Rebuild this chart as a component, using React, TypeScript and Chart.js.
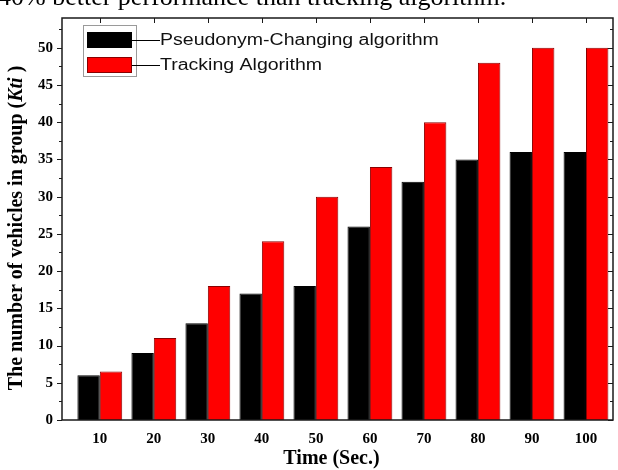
import React, { useEffect, useRef } from 'react';
import { Chart, registerables } from 'chart.js';

Chart.register(...registerables);

const categories = [10, 20, 30, 40, 50, 60, 70, 80, 90, 100];
const pseudonymValues = [6, 9, 13, 17, 18, 26, 32, 35, 36, 36];
const trackingValues = [6.5, 11, 18, 24, 30, 34, 40, 48, 50, 50];
const xTickLabels = [10, 20, 30, 40, 50, 60, 70, 80, 90, 100];
const yTickLabels = [0, 5, 10, 15, 20, 25, 30, 35, 40, 45, 50];
const yMinorTicks = [2.5, 7.5, 12.5, 17.5, 22.5, 27.5, 32.5, 37.5, 42.5, 47.5, 52.5];
const seriesNames = ['Pseudonym-Changing algorithm', 'Tracking Algorithm'];
const seriesColors = ['#000000', '#ff0000'];
const seriesBorders = ['#000000', '#8a0000'];
const captionText = '40% better performance than tracking algorithm.';
const xTitleText = 'Time (Sec.)';
const yTitleParts = [
  { text: 'The number of vehicles in group (', italic: false },
  { text: 'Kti', italic: true },
  { text: ' )', italic: false },
];

const SERIF = '"Liberation Serif", "Times New Roman", serif';
const SANS = '"Liberation Sans", Arial, sans-serif';

const decorPlugin = {
  id: 'decor',
  afterDraw(chart: any) {
    const ctx = chart.ctx as CanvasRenderingContext2D;
    const ca = chart.chartArea;
    const xs = chart.scales.x;
    const ys = chart.scales.y;
    ctx.save();

    // frame
    ctx.strokeStyle = '#1a1a1a';
    ctx.lineWidth = 1.5;
    ctx.strokeRect(ca.left, ca.top, ca.right - ca.left, ca.bottom - ca.top);

    // y ticks (left outward, right inward)
    ctx.lineWidth = 1;
    ctx.strokeStyle = '#1a1a1a';
    const drawYTick = (v: number, len: number) => {
      const py = Math.round(ys.getPixelForValue(v)) + 0.5;
      ctx.beginPath();
      ctx.moveTo(ca.left - len, py);
      ctx.lineTo(ca.left, py);
      ctx.moveTo(ca.right, py);
      ctx.lineTo(ca.right - len, py);
      ctx.stroke();
    };
    yTickLabels.forEach((v) => drawYTick(v, 5));
    yMinorTicks.forEach((v) => drawYTick(v, 3));

    // top ticks inward
    xTickLabels.forEach((v) => {
      const px = Math.round(xs.getPixelForValue(v)) + 0.5;
      ctx.beginPath();
      ctx.moveTo(px, ca.top);
      ctx.lineTo(px, ca.top + 5);
      ctx.stroke();
    });

    // caption (cut off at top)
    ctx.fillStyle = '#000';
    ctx.font = `26px ${SERIF}`;
    ctx.textAlign = 'left';
    ctx.textBaseline = 'alphabetic';
    ctx.fillText(captionText, -2, 5);

    // legend
    const lx = 83, ly = 25, lw = 53, lh = 51;
    ctx.strokeStyle = '#9a9a9a';
    ctx.lineWidth = 1;
    ctx.strokeRect(lx + 0.5, ly + 0.5, lw, lh);
    const rows = [40, 65];
    seriesNames.forEach((name, i) => {
      const cy = rows[i];
      ctx.fillStyle = seriesColors[i];
      ctx.fillRect(87, cy - 8, 45, 16);
      ctx.strokeStyle = seriesBorders[i];
      ctx.strokeRect(87.5, cy - 7.5, 44, 15);
      ctx.strokeStyle = '#000';
      ctx.beginPath();
      ctx.moveTo(132, cy + 0.5);
      ctx.lineTo(160, cy + 0.5);
      ctx.stroke();
      ctx.save();
      ctx.translate(160, cy);
      ctx.scale(1.22, 1);
      ctx.fillStyle = '#111';
      ctx.font = `16px ${SANS}`;
      ctx.textBaseline = 'middle';
      ctx.fillText(name, 0, 1);
      ctx.restore();
    });

    // x title
    ctx.fillStyle = '#000';
    ctx.font = `bold 20px ${SERIF}`;
    ctx.textAlign = 'center';
    ctx.textBaseline = 'middle';
    ctx.fillText(xTitleText, (ca.left + ca.right) / 2 - 6, 459);

    // y title (mixed styles)
    ctx.save();
    ctx.translate(17, 228);
    ctx.rotate(-Math.PI / 2);
    ctx.textAlign = 'left';
    ctx.textBaseline = 'middle';
    const fonts = yTitleParts.map((p) => (p.italic ? `italic bold 20px ${SERIF}` : `bold 20px ${SERIF}`));
    let total = 0;
    const widths = yTitleParts.map((p, i) => {
      ctx.font = fonts[i];
      const w = ctx.measureText(p.text).width;
      total += w;
      return w;
    });
    let cx = -total / 2;
    yTitleParts.forEach((p, i) => {
      ctx.font = fonts[i];
      ctx.fillText(p.text, cx, 0);
      cx += widths[i];
    });
    ctx.restore();

    ctx.restore();
  },
};

export default function App() {
  const canvasRef = useRef<HTMLCanvasElement | null>(null);

  useEffect(() => {
    document.body.style.margin = '0';
    const canvas = canvasRef.current;
    if (!canvas) return;
    const chart = new Chart(canvas, {
      type: 'bar',
      data: {
        datasets: [
          {
            label: seriesNames[0],
            data: categories.map((c, i) => ({ x: c, y: pseudonymValues[i] })),
            backgroundColor: seriesColors[0],
            borderColor: seriesBorders[0],
            borderWidth: 1,
            categoryPercentage: 0.83,
            barPercentage: 1,
          },
          {
            label: seriesNames[1],
            data: categories.map((c, i) => ({ x: c, y: trackingValues[i] })),
            backgroundColor: seriesColors[1],
            borderColor: seriesBorders[1],
            borderWidth: 1,
            categoryPercentage: 0.83,
            barPercentage: 1,
          },
        ],
      },
      options: {
        responsive: false,
        animation: false,
        devicePixelRatio: 1,
        layout: { padding: { top: 9, right: 5, left: 0, bottom: 0 } },
        plugins: {
          legend: { display: false },
          tooltip: { enabled: false },
        },
        scales: {
          x: {
            type: 'linear',
            min: 3,
            max: 105,
            offset: false,
            afterBuildTicks: (scale: any) => {
              scale.ticks = xTickLabels.map((v) => ({ value: v }));
            },
            afterFit: (scale: any) => {
              scale.height = 50;
            },
            grid: { display: false, drawTicks: false, offset: false },
            border: { display: false },
            ticks: {
              autoSkip: false,
              maxRotation: 0,
              padding: 10,
              color: '#000',
              font: { family: SERIF, size: 15, weight: 'bold' },
            },
          },
          y: {
            type: 'linear',
            min: 0,
            max: 54,
            afterBuildTicks: (scale: any) => {
              scale.ticks = yTickLabels.map((v) => ({ value: v }));
            },
            afterFit: (scale: any) => {
              scale.width = 62;
            },
            grid: { display: false, drawTicks: false },
            border: { display: false },
            ticks: {
              padding: 9,
              color: '#000',
              font: { family: SERIF, size: 15, weight: 'bold' },
            },
          },
        },
      },
      plugins: [decorPlugin],
    } as any);
    return () => chart.destroy();
  }, []);

  return (
    <div style={{ width: 618, height: 470, background: '#fff' }}>
      <canvas ref={canvasRef} width={618} height={470} style={{ display: 'block' }} />
    </div>
  );
}
